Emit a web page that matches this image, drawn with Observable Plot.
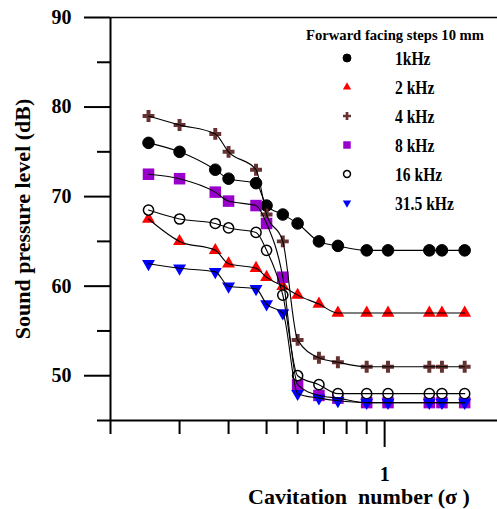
<!DOCTYPE html>
<html><head><meta charset="utf-8">
<script src="https://cdn.jsdelivr.net/npm/d3@7"></script>
<script src="https://cdn.jsdelivr.net/npm/@observablehq/plot@0.6"></script>
<style>
body{margin:0;background:#fff;}
</style></head><body><div id="chart"></div>
<script>
// ---- data ----
const sigma = [0.25, 0.3, 0.37, 0.4, 0.47, 0.5, 0.55, 0.6, 0.68, 0.76, 0.9, 1.02, 1.3, 1.4, 1.6];
const series = ["1kHz", "2 kHz", "4 kHz", "8 kHz", "16 kHz", "31.5 kHz"];
const spl1k  = [76, 75, 73, 72, 71.5, 69, 68, 67, 65, 64.5, 64, 64, 64, 64, 64];
const spl2k  = [67.5, 65, 64, 62.5, 62, 61, 60, 59, 58, 57, 57, 57, 57, 57, 57];
const spl4k  = [79, 78, 77, 75, 73, 68, 65, 54, 52, 51.5, 51, 51, 51, 51, 51];
const spl8k  = [72.5, 72, 70.5, 69.5, 69, 67, 61, 49, 47.8, 47.5, 47, 47, 47, 47, 47];
const spl16k = [68.5, 67.5, 67, 66.5, 66, 64, 59, 50, 49, 48, 48, 48, 48, 48, 48];
const spl31k = [62.5, 62, 61.6, 60, 59.7, 58, 57, 48, 47.5, 47.2, 47, 47, 47, 47, 47];
const yMajorTicks = [50, 60, 70, 80, 90];
const yMinorTicks = [45, 55, 65, 75, 85];
const xMinorTicks = [0.2, 0.3, 0.4, 0.5, 0.6, 0.7, 0.8, 0.9];
const xMajorTicks = [1];
const legendTitle = "Forward facing steps 10 mm";
const xLabel = "Cavitation  number (σ )";
const yLabel = "Sound pressure level (dB)";

const values = [spl1k, spl2k, spl4k, spl8k, spl16k, spl31k];
const rows = series.flatMap((s, i) => sigma.map((x, j) => ({series: s, sigma: x, spl: values[i][j]})));

const FONT = "'Liberation Serif', 'Times New Roman', serif";
const sqrt3 = Math.sqrt(3);
const triangleDown = {
  draw(context, size) {
    const y = -Math.sqrt(size / (sqrt3 * 3));
    context.moveTo(0, -y * 2);
    context.lineTo(-sqrt3 * y, y);
    context.lineTo(sqrt3 * y, y);
    context.closePath();
  }
};

const styles = {
  "1kHz":     {symbol: "circle",   fill: "black",   stroke: "black", strokeWidth: 1, r: 5.8, lsym: d3.symbolCircle, lsize: 50},
  "2 kHz":    {symbol: "triangle", fill: "#ff0000", stroke: "none",  strokeWidth: 0, r: 4.8, lsym: d3.symbolTriangle, lsize: 30},
  "4 kHz":    {symbol: "cross",    fill: "#663333", stroke: "none",  strokeWidth: 0, r: 5.0, lsym: d3.symbolCross, lsize: 36},
  "8 kHz":    {symbol: "square",   fill: "#9900cc", stroke: "none",  strokeWidth: 0, r: 6.5, lsym: d3.symbolSquare, lsize: 56},
  "16 kHz":   {symbol: "circle",   fill: "white",   stroke: "black", strokeWidth: 1.5, r: 5.1, lsym: d3.symbolCircle, lsize: 38},
  "31.5 kHz": {symbol: triangleDown, fill: "#0000ff", stroke: "none", strokeWidth: 0, r: 4.8, lsym: triangleDown, lsize: 30}
};

const dotMarks = series.map(s => Plot.dot(rows.filter(d => d.series === s), {
  x: "sigma", y: "spl",
  symbol: styles[s].symbol, fill: styles[s].fill, stroke: styles[s].stroke,
  strokeWidth: styles[s].strokeWidth, r: styles[s].r
}));

const plot = Plot.plot({
  width: 497, height: 509,
  marginLeft: 110, marginRight: 0, marginTop: 17, marginBottom: 89,
  x: {type: "log", domain: [0.2, 1.94]},
  y: {domain: [45, 90]},
  style: {background: "white", color: "black", fontFamily: FONT},
  marks: [
    Plot.ruleY([90], {stroke: "black", strokeWidth: 1.3}),
    Plot.ruleX([0.2], {stroke: "black", strokeWidth: 2}),
    Plot.ruleY([45], {stroke: "black", strokeWidth: 2}),
    Plot.axisY(yMajorTicks, {tickSize: 26, tickPadding: 13, fontSize: 20, fontWeight: "bold", fontFamily: FONT, strokeWidth: 2, label: null, tickFormat: d => String(d)}),
    Plot.axisY(yMinorTicks, {tickSize: 13, strokeWidth: 2, label: null, tickFormat: () => ""}),
    Plot.axisX(xMinorTicks, {tickSize: 14, strokeWidth: 2, label: null, tickFormat: () => ""}),
    Plot.axisX(xMajorTicks, {tickSize: 27, tickPadding: 19, fontSize: 20, fontWeight: "bold", fontFamily: FONT, strokeWidth: 2, label: null, tickFormat: d => String(d)}),
    ...dotMarks,
    Plot.line(rows, {x: "sigma", y: "spl", z: "series", stroke: "black", strokeWidth: 1.1, curve: "monotone-x"}),
    Plot.text([yLabel], {frameAnchor: "left", dx: -88, rotate: -90, textAnchor: "middle", lineAnchor: "middle", fontSize: 22, fontWeight: "bold", fontFamily: FONT}),
    Plot.text([xLabel], {frameAnchor: "bottom", dx: 55, dy: 76, textAnchor: "middle", lineAnchor: "middle", fontSize: 22, fontWeight: "bold", fontFamily: FONT})
  ]
});
document.getElementById("chart").appendChild(plot);

// ---- legend ----
const svg = d3.select(plot.tagName.toLowerCase() === "svg" ? plot : plot.querySelector("svg"));
const lg = svg.append("g").attr("font-family", FONT).attr("font-weight", "bold").attr("fill", "black").attr("text-anchor", "start");
const title = lg.append("text").attr("x", 306).attr("y", 35).attr("dy", "0.35em").attr("font-size", 15.5).text(legendTitle);
title.attr("textLength", 178).attr("lengthAdjust", "spacingAndGlyphs");
series.forEach((s, i) => {
  const y = 58 + 29 * i;
  const st = styles[s];
  lg.append("path")
    .attr("transform", `translate(347,${y})`)
    .attr("d", d3.symbol(st.lsym, st.lsize)())
    .attr("fill", st.fill)
    .attr("stroke", st.stroke)
    .attr("stroke-width", st.strokeWidth);
  const t = lg.append("text").attr("x", 395).attr("y", y).attr("dy", "0.35em").attr("font-size", 19).text(s);
  const w = t.node().getComputedTextLength();
  t.attr("textLength", w * 0.82).attr("lengthAdjust", "spacingAndGlyphs");
});
</script>
</body></html>
